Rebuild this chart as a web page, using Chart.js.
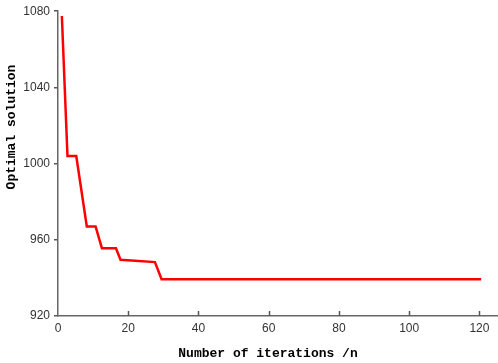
<!DOCTYPE html>
<html>
<head>
<meta charset="utf-8">
<script src="https://cdn.jsdelivr.net/npm/chart.js@4/dist/chart.umd.min.js"></script>
<style>
html,body{margin:0;padding:0;background:#fff;}
#wrap{width:498px;height:363px;position:relative;}
</style>
</head>
<body>
<div id="wrap"><canvas id="c" width="498" height="363"></canvas></div>
<script>
// Data
const iterations = [1.1, 2.7, 5.2, 8.2, 10.7, 12.5, 16.5, 17.8, 27.6, 29.5, 120.5];
const optimalValues = [1077.5, 1004, 1004, 967, 967, 955.6, 955.6, 949.5, 948.3, 939.3, 939.3];
const xTicks = [0, 20, 40, 60, 80, 100, 120];
const yTicks = [920, 960, 1000, 1040, 1080];
const xTitle = 'Number of iterations /n';
const yTitle = 'Optimal solution';

const points = iterations.map((x, i) => ({x: x, y: optimalValues[i]}));

const titlePlugin = {
  id: 'axisTitlesAndTicks',
  afterDraw(chart) {
    const ctx = chart.ctx;
    const xs = chart.scales.x;
    const area = chart.chartArea;
    ctx.save();
    // inward x tick marks
    ctx.strokeStyle = '#555';
    ctx.lineWidth = 1.5;
    xTicks.forEach(v => {
      if (v === 0) return;
      const px = Math.round(xs.getPixelForValue(v)) + 0.5;
      ctx.beginPath();
      ctx.moveTo(px, area.bottom);
      ctx.lineTo(px, area.bottom - 5);
      ctx.stroke();
    });
    // titles
    ctx.fillStyle = '#000';
    ctx.font = 'bold 13px "Liberation Mono"';
    ctx.textAlign = 'center';
    ctx.textBaseline = 'middle';
    ctx.fillText(xTitle, 268, 354);
    ctx.translate(12, 127);
    ctx.rotate(-Math.PI / 2);
    ctx.fillText(yTitle, 0, 0);
    ctx.restore();
  }
};

new Chart(document.getElementById('c'), {
  type: 'line',
  data: {
    datasets: [{
      data: points,
      borderColor: '#ff0000',
      borderWidth: 2.5,
      pointRadius: 0,
      tension: 0,
      fill: false
    }]
  },
  options: {
    responsive: false,
    animation: false,
    devicePixelRatio: 1,
    layout: {padding: {top: 9, right: 1, left: 0, bottom: 0}},
    plugins: {legend: {display: false}, tooltip: {enabled: false}},
    scales: {
      x: {
        type: 'linear',
        min: 0, max: 125,
        afterBuildTicks: s => { s.ticks = xTicks.map(v => ({value: v})); },
        afterFit: s => { s.height = 47; },
        grid: {display: true, drawOnChartArea: false, drawTicks: false, tickLength: 0},
        border: {display: true, color: '#666', width: 1.5},
        ticks: {color: '#333', font: {family: '"Liberation Sans"', size: 12}, padding: 5, maxRotation: 0,
                callback: v => String(v)}
      },
      y: {
        type: 'linear',
        min: 920, max: 1080,
        afterBuildTicks: s => { s.ticks = yTicks.map(v => ({value: v})); },
        afterFit: s => { s.width = 58; },
        grid: {display: true, drawOnChartArea: false, drawTicks: true, tickLength: 4, color: '#555', lineWidth: 1.5},
        border: {display: true, color: '#666', width: 1.5},
        ticks: {color: '#333', font: {family: '"Liberation Sans"', size: 12}, padding: 4,
                callback: v => String(v)}
      }
    }
  },
  plugins: [titlePlugin]
});
</script>
</body>
</html>
